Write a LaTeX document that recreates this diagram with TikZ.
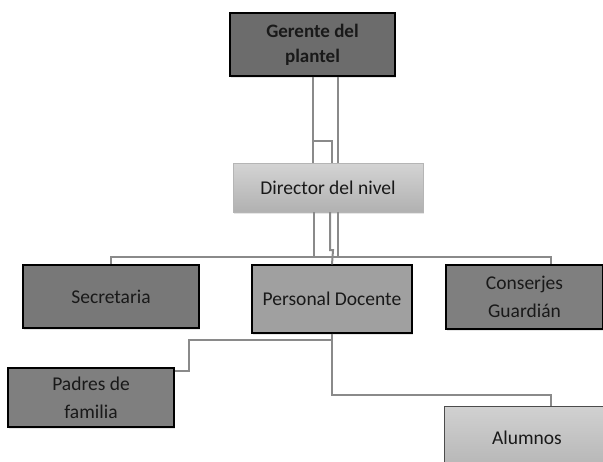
\documentclass[tikz,border=0pt]{standalone}
\usepackage{fontspec}
\setmainfont{Carlito}
\usetikzlibrary{shadows}
\definecolor{boxdark}{HTML}{787878}
\definecolor{boxmid}{HTML}{A0A0A0}
\definecolor{boxlight}{HTML}{C9C9C9}
\definecolor{linegray}{HTML}{8A8A8A}
\tikzset{onode/.style = {shape = rectangle,
                                    draw = black,
                                    line width = 1.2pt,
                                    inner sep = 2pt,
                                    align = center,
                                    text = black!90,
                                    font = \fontsize{19.5}{28}\selectfont,
                                    drop shadow = {opacity = 0.2,
                                                   shadow xshift = 1pt,
                                                   shadow yshift = -1.5pt}},
         conn/.style = {draw = linegray,
                                    line width = 2pt}}

\begin{document}
\begin{tikzpicture}[x=1pt,y=-1pt]
		\useasboundingbox (0,0) rectangle (603,461);
		\node[onode, fill = boxdark!90!black, minimum width = 165pt, minimum height = 63pt,
		      font = \fontsize{19}{25}\selectfont\bfseries] (gerente) at (312.5,44.5) {Gerente del\\plantel};
		\node[onode, top color = boxlight!80!white, bottom color = boxlight!88!black,
		      draw = boxlight!90!black, line width = 0.4pt,
		      minimum width = 190pt, minimum height = 49pt] (director) at (328,187.5) {Director del nivel};
		\node[onode, fill = boxdark, minimum width = 176pt, minimum height = 63pt] (sec) at (111,296.5) {Secretaria};
		\node[onode, fill = boxmid, minimum width = 160pt, minimum height = 68pt] (pd) at (332,299) {Personal Docente};
		\node[onode, fill = boxdark!95!white, minimum width = 157pt, minimum height = 64pt] (cons) at (524.5,297) {Conserjes\\Guardián};
		\node[onode, fill = boxdark!95!white, minimum width = 166pt, minimum height = 59pt] (padres) at (91,397.5) {Padres de\\familia};
		\node[onode, top color = boxlight!85!white, bottom color = boxlight!90!black,
		      draw = black!70, line width = 0.6pt,
		      minimum width = 166pt, minimum height = 64pt] (alumnos) at (527,438) {Alumnos};
		\coordinate (gstep) at (313,141);
		\coordinate (bus) at (330,257);
		% gerente - director
		\draw[conn] (gerente.south) -- (gerente.south |- director.north);
		\draw[conn] ([xshift=25pt]gerente.south) -- ([xshift=25pt]gerente.south |- director.north);
		\draw[conn] (gstep) -| ([xshift=4pt]director.north);
		% director - bus
		\draw[conn] ([xshift=-14pt]director.south) |- (bus);
		\draw[conn] ([xshift=10pt]director.south) |- (bus);
		\draw[conn] (director.south) ++(2,0) -- ++(0,38) -- ++(3,0) -- (pd.north);
		\draw[conn] (sec.north) |- (bus) -| ([xshift=26.5pt]cons.north);
		% personal docente
		\draw[conn] (pd.south) -- ++(0,6) -- ++(-143,0) |- ([yshift=-4pt]padres.north east);
		\draw[conn] (pd.south) -- ++(0,61) -| ([xshift=24pt]alumnos.north);
	\end{tikzpicture}
\end{document}
